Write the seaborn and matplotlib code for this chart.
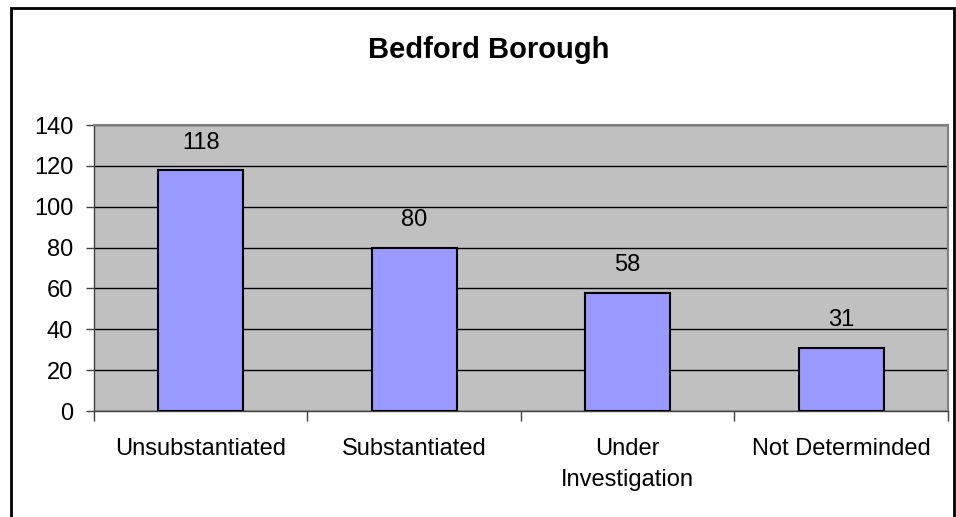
import matplotlib
matplotlib.use("Agg")
import matplotlib.pyplot as plt
import seaborn as sns
import pandas as pd
from matplotlib.patches import Rectangle

categories = ["Unsubstantiated", "Substantiated", "Under\nInvestigation", "Not Determinded"]
values = [118, 80, 58, 31]
y_ticks = [0, 20, 40, 60, 80, 100, 120, 140]

df = pd.DataFrame({"category": categories, "count": values})

sns.set_style("white")
plt.rcParams["font.family"] = ["Liberation Sans", "DejaVu Sans"]
plt.rcParams["text.color"] = "black"
plt.rcParams["xtick.color"] = "black"
plt.rcParams["ytick.color"] = "black"

fig = plt.figure(figsize=(9.56, 5.17), dpi=100)
ax = fig.add_axes([0.0983, 0.205, 0.8933, 0.553])

sns.barplot(data=df, x="category", y="count", color="#9999FF", width=0.4,
            edgecolor="black", linewidth=1.5, saturation=1, ax=ax, zorder=3)

ax.set_facecolor("#C0C0C0")
ax.set_ylim(0, 140)
ax.set_xlim(-0.5, len(categories) - 0.5)
ax.set_yticks(y_ticks)
ax.yaxis.grid(True, color="black", linewidth=1)
ax.set_axisbelow(True)
ax.set_xlabel("")
ax.set_ylabel("")

# category labels centred, tick marks between categories
ax.set_xticks(range(len(categories)))
ax.set_xticklabels(categories, fontsize=17, linespacing=1.5)
ax.tick_params(axis="x", which="major", bottom=False, pad=16)
ax.set_xticks([i - 0.5 for i in range(len(categories) + 1)], minor=True)
ax.tick_params(axis="x", which="minor", bottom=True, length=7, width=1,
               color="#404040", direction="out")
ax.tick_params(axis="y", left=True, labelsize=17, length=6, width=1,
               color="#404040", direction="out", pad=9)

for s in ["top", "right"]:
    ax.spines[s].set_color("#808080")
    ax.spines[s].set_linewidth(1.5)
for s in ["left", "bottom"]:
    ax.spines[s].set_color("#404040")
    ax.spines[s].set_linewidth(1)

for i, v in enumerate(values):
    ax.text(i, v + 8, str(v), ha="center", va="bottom", fontsize=17)

fig.text(0.511, 0.903, "Bedford Borough", ha="center", va="center",
         fontsize=21, fontweight="bold")

fig.patches.append(Rectangle((0.0115, -0.05), 0.986, 1.035, transform=fig.transFigure,
                             fill=False, edgecolor="black", linewidth=2))

fig.savefig("out.png", dpi=100)
